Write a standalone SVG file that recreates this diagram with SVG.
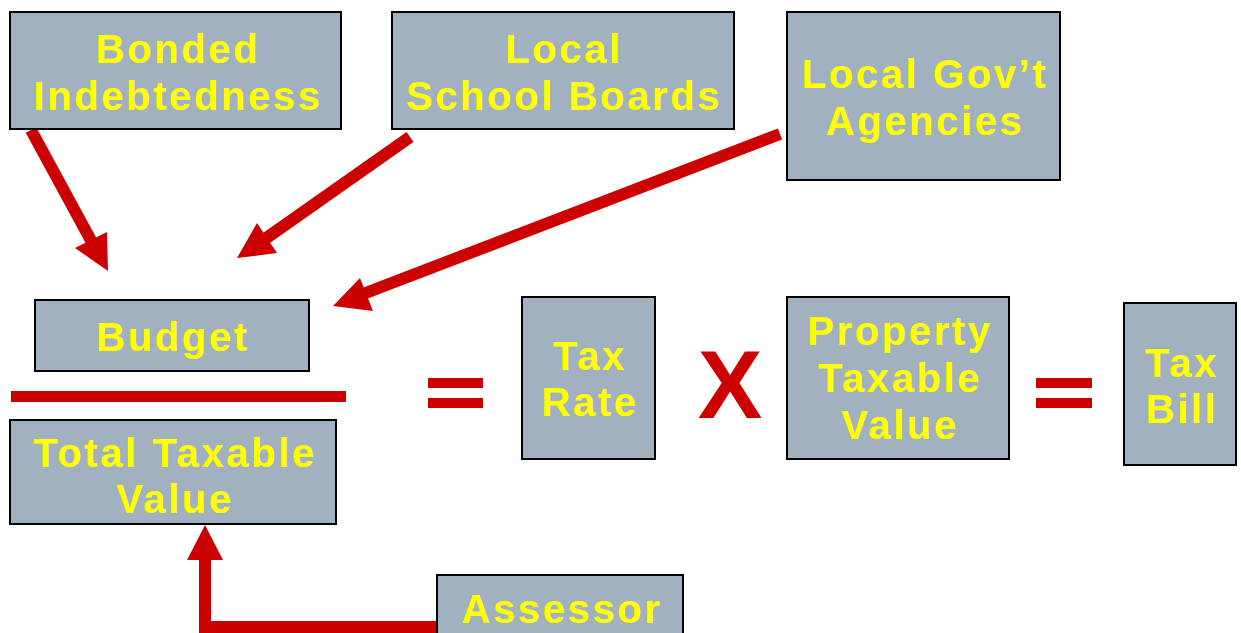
<svg xmlns="http://www.w3.org/2000/svg" width="1241" height="633" viewBox="0 0 1241 633">
<style>
.box{fill:#A2B1C0;stroke:#000;stroke-width:2}
.t{font-family:"Liberation Sans",Arial,sans-serif;font-weight:bold;font-size:40px;fill:#FFFF00;text-anchor:middle;letter-spacing:2.6px}
.ln{stroke:#CC0000;stroke-width:12;fill:none}
.hd{fill:#CC0000}
.op{fill:#CC0000}
</style>
<rect width="1241" height="633" fill="#fff"/>
<g id="connectors">
<line class="ln" x1="31" y1="130" x2="94" y2="246"/>
<polygon class="hd" points="108,271 75,248 107,232"/>
<line class="ln" x1="410" y1="137" x2="265" y2="239"/>
<polygon class="hd" points="237,258 257,223 277,253"/>
<line class="ln" x1="780" y1="134" x2="363" y2="294"/>
<polygon class="hd" points="333,306 360,278 373,311"/>
<polyline class="ln" points="437,627 205,627 205,558"/>
<polygon class="hd" points="205,525 187,560 223,560"/>
</g>
<g id="bonded"><rect class="box" x="10" y="12" width="331" height="117"/><text class="t" x="178" y="63">Bonded</text><text class="t" x="178" y="110">Indebtedness</text></g>
<g id="school"><rect class="box" x="392" y="12" width="342" height="117"/><text class="t" x="564" y="63">Local</text><text class="t" x="564" y="110">School Boards</text></g>
<g id="govt"><rect class="box" x="787" y="12" width="273" height="168"/><text class="t" x="925" y="88">Local Gov’t</text><text class="t" x="925" y="135">Agencies</text></g>
<g id="budget"><rect class="box" x="35" y="300" width="274" height="71"/><text class="t" x="173" y="351">Budget</text></g>
<g id="divider"><rect class="op" x="11" y="391" width="335" height="11"/></g>
<g id="total"><rect class="box" x="10" y="420" width="326" height="104"/><text class="t" x="175" y="467">Total Taxable</text><text class="t" x="175" y="513">Value</text></g>
<g id="eq1"><rect class="op" x="428" y="378" width="55" height="10"/><rect class="op" x="428" y="398" width="55" height="10"/></g>
<g id="taxrate"><rect class="box" x="522" y="297" width="133" height="162"/><text class="t" x="590" y="370">Tax</text><text class="t" x="590" y="416">Rate</text></g>
<g id="times"><text x="730" y="418" font-family="Liberation Sans,Arial,sans-serif" font-weight="bold" font-size="97" fill="#CC0000" text-anchor="middle">X</text></g>
<g id="property"><rect class="box" x="787" y="297" width="222" height="162"/><text class="t" x="900" y="345">Property</text><text class="t" x="900" y="392">Taxable</text><text class="t" x="900" y="439">Value</text></g>
<g id="eq2"><rect class="op" x="1036" y="378" width="56" height="10"/><rect class="op" x="1036" y="398" width="56" height="10"/></g>
<g id="taxbill"><rect class="box" x="1124" y="303" width="112" height="162"/><text class="t" x="1182" y="377">Tax</text><text class="t" x="1182" y="423">Bill</text></g>
<g id="assessor"><rect class="box" x="437" y="575" width="246" height="70"/><text class="t" x="562" y="623">Assessor</text></g>
</svg>
